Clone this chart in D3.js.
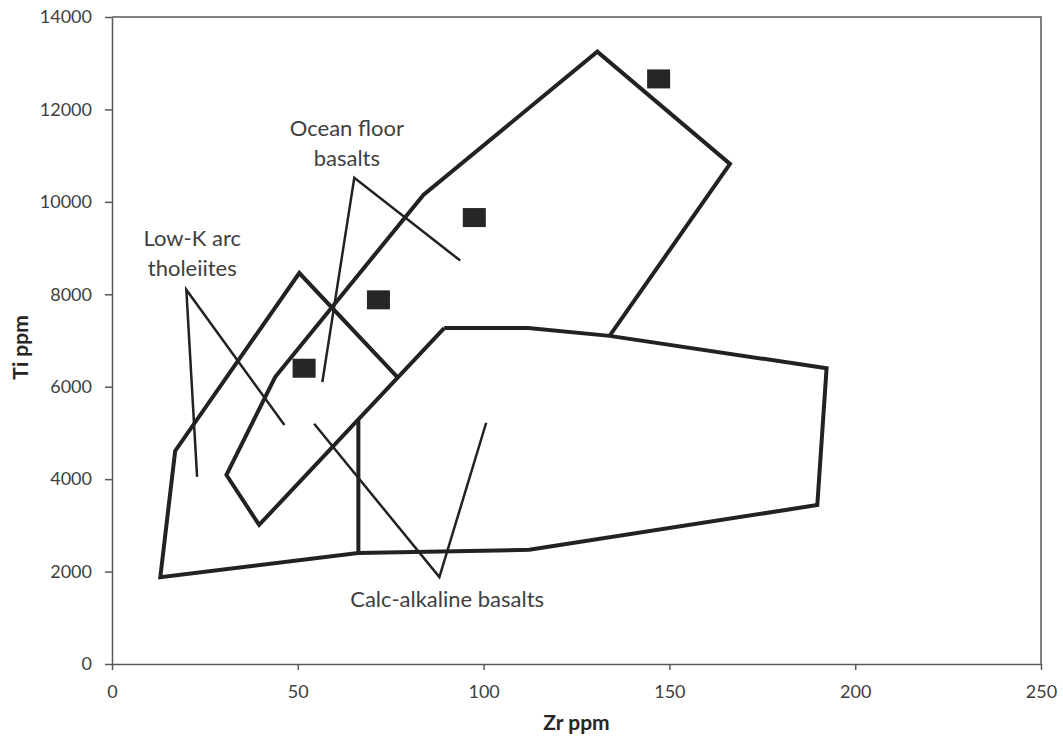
<!DOCTYPE html>
<html>
<head>
<meta charset="utf-8">
<script src="https://cdn.jsdelivr.net/npm/d3@7"></script>
<style>
  body { margin: 0; background: #fff; }
  text { font-family: Lato, "Open Sans", sans-serif; fill: #404040; }
  .axis text { font-size: 18px; font-family: Lato, "Open Sans", sans-serif; fill: #404040; }
  .axis line, .axis path { stroke: #595959; stroke-width: 1.5; }
  .axis-title { font-size: 21px; font-weight: bold; fill: #262626; }
  .field { fill: none; stroke: #222; stroke-width: 4; stroke-linejoin: miter; }
  .pointer { fill: none; stroke: #222; stroke-width: 2.5; }
  .label { font-size: 22px; text-anchor: middle; }
</style>
</head>
<body>
<div id="chart-area"></div>
<script>
const chartSize = { width: 1063, height: 738 };
const margin = { left: 112, right: 22, top: 17, bottom: 74 };
const width = chartSize.width - (margin.left + margin.right);
const height = chartSize.height - (margin.top + margin.bottom);

// tick labels
const zrTicks = [0, 50, 100, 150, 200, 250];
const tiTicks = [0, 2000, 4000, 6000, 8000, 10000, 12000, 14000];

// field boundaries, [Zr ppm, Ti ppm]
const lowKField = [[66.3, 5290], [66.3, 2400], [13.0, 1880], [17.0, 4610], [50.4, 8460], [76.8, 6210]];
const oceanFloorField = [[89.4, 7270], [39.6, 3010], [30.8, 4090], [43.9, 6210], [83.8, 10150],
  [130.6, 13250], [166.3, 10820], [133.9, 7100]];
const calcAlkField = [[89.4, 7270], [112.0, 7270], [133.9, 7100], [192.3, 6400], [189.8, 3440],
  [112.3, 2470], [66.3, 2400]];

// leader lines from the labels
const oceanPointer = [[93.7, 8730], [65.2, 10520], [56.6, 6100]];
const lowKPointer = [[22.9, 4050], [20.0, 8100], [46.4, 5170]];
const calcPointer = [[54.4, 5200], [88.1, 1880], [100.7, 5220]];

// samples
const sampleZr = [147.1, 97.5, 71.7, 51.7];
const sampleTi = [12660, 9660, 7880, 6400];

const fieldLabels = [
  { lines: ['Ocean floor', 'basalts'], zr: 63.2, ti: 11600 },
  { lines: ['Low-K arc', 'tholeiites'], zr: 21.6, ti: 9220 },
  { lines: ['Calc-alkaline basalts'], zr: 90.2, ti: 1400 }
];

const drawChart = () => {
  const svg = d3.select('#chart-area').append('svg')
    .attr('width', chartSize.width)
    .attr('height', chartSize.height);

  const g = svg.append('g')
    .attr('transform', `translate(${margin.left},${margin.top})`);

  const x = d3.scaleLinear().domain([0, 250]).range([0, width]);
  const y = d3.scaleLinear().domain([0, 14000]).range([height, 0]);

  g.append('g')
    .attr('class', 'x axis')
    .attr('transform', `translate(0,${height})`)
    .call(d3.axisBottom(x).tickValues(zrTicks).tickFormat(d3.format('d'))
      .tickSize(6).tickSizeOuter(0).tickPadding(15));

  g.append('g')
    .attr('class', 'y axis')
    .call(d3.axisLeft(y).tickValues(tiTicks).tickFormat(d3.format('d'))
      .tickSize(7).tickSizeOuter(0).tickPadding(13));

  // top and right frame
  g.append('path')
    .attr('d', `M0,0H${width}V${height}`)
    .attr('fill', 'none')
    .attr('stroke', '#595959')
    .attr('stroke-width', 1.5);

  g.append('text')
    .attr('class', 'axis-title')
    .attr('text-anchor', 'middle')
    .attr('x', x(125))
    .attr('y', height + 66)
    .text('Zr ppm');

  g.append('text')
    .attr('class', 'axis-title')
    .attr('text-anchor', 'middle')
    .attr('transform', 'rotate(-90)')
    .attr('x', -y(6850))
    .attr('y', -84)
    .text('Ti ppm');

  const line = d3.line().x(d => x(d[0])).y(d => y(d[1]));

  g.selectAll('.pointer')
    .data([oceanPointer, lowKPointer, calcPointer])
    .enter().append('path')
    .attr('class', 'pointer')
    .attr('d', line);

  g.selectAll('.field')
    .data([lowKField, oceanFloorField, calcAlkField])
    .enter().append('path')
    .attr('class', 'field')
    .attr('d', line);

  g.selectAll('.sample')
    .data(sampleZr.map((zr, i) => ({ zr, ti: sampleTi[i] })))
    .enter().append('rect')
    .attr('class', 'sample')
    .attr('x', d => x(d.zr) - 11.5)
    .attr('y', d => y(d.ti) - 9.5)
    .attr('width', 23)
    .attr('height', 19)
    .attr('fill', '#262626');

  const labels = g.selectAll('.label')
    .data(fieldLabels)
    .enter().append('text')
    .attr('class', 'label')
    .attr('x', d => x(d.zr))
    .attr('y', d => y(d.ti));

  labels.selectAll('tspan')
    .data(d => d.lines.map(t => ({ t, zr: d.zr })))
    .enter().append('tspan')
    .attr('x', d => x(d.zr))
    .attr('dy', (d, i) => i === 0 ? '0.35em' : 30)
    .text(d => d.t);
};

window.onload = drawChart;
</script>
</body>
</html>
